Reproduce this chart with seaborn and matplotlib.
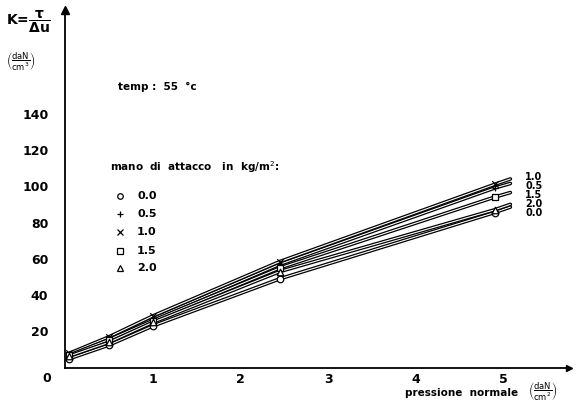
import matplotlib
matplotlib.use("Agg")
import matplotlib.pyplot as plt
import matplotlib.patheffects as pe
import seaborn as sns
import pandas as pd

sns.set_theme(style="white")
plt.rcParams['font.family'] = ['DejaVu Sans']
plt.rcParams['text.color'] = 'black'
plt.rcParams['xtick.color'] = 'black'
plt.rcParams['ytick.color'] = 'black'

# data
pressure = [0.05, 0.5, 1.0, 2.45, 4.9]
series_labels = ["0.0", "0.5", "1.0", "1.5", "2.0"]
k_00 = [5.0, 12.5, 23.0, 49.0, 85.5]
k_05 = [7.5, 16.0, 27.0, 57.0, 99.0]
k_10 = [8.0, 17.0, 28.5, 58.5, 101.0]
k_15 = [7.0, 15.5, 26.0, 55.0, 94.0]
k_20 = [6.5, 14.0, 25.0, 53.0, 87.0]
# end of drawn lines (right side, beyond last measured point)
line_end_x = 5.08
line_end_k = {"0.0": 88.5, "0.5": 101.5, "1.0": 104.0, "1.5": 96.5, "2.0": 90.0}
end_label_order = ["1.0", "0.5", "1.5", "2.0", "0.0"]
end_label_y = [105, 100, 95, 90, 85]
yticks = [20, 40, 60, 80, 100, 120, 140]
xticks_major = [1, 2, 3, 4, 5]
xticks_minor = [0.5, 1.5, 2.5, 3.5, 4.5, 5.5]

values = {"0.0": k_00, "0.5": k_05, "1.0": k_10, "1.5": k_15, "2.0": k_20}
markers = {"0.0": "o", "0.5": "+", "1.0": "x", "1.5": "s", "2.0": "^"}

rows = []
for s in series_labels:
    for x, y in zip(pressure, values[s]):
        rows.append({"p": x, "k": y, "mano": s})
pts = pd.DataFrame(rows)
lines = pd.concat([pts, pd.DataFrame([{"p": line_end_x, "k": line_end_k[s], "mano": s}
                                       for s in series_labels])]).sort_values(["mano", "p"])

fig = plt.figure(figsize=(5.76, 4.05), dpi=100)
ax = fig.add_axes([0.113, 0.092, 0.875, 0.883])
ax.set_xlim(0, 5.75)
ax.set_ylim(0, 197)

sns.lineplot(data=lines, x="p", y="k", units="mano", estimator=None, color="white",
             lw=0.8, ax=ax, sort=False,
             path_effects=[pe.Stroke(linewidth=2.6, foreground="black"), pe.Normal()])
for s in series_labels:
    sub = pts[pts.mano == s]
    filled = markers[s] in ("+", "x")
    sns.scatterplot(data=sub, x="p", y="k", marker=markers[s], s=22,
                    facecolor="black" if filled else "white", edgecolor="black",
                    color="black", linewidth=0.9, ax=ax, zorder=5, legend=False)

for lab, yy in zip(end_label_order, end_label_y):
    ax.text(5.25, yy, lab, fontsize=7, fontweight="bold", va="center", ha="left")

sns.despine(ax=ax)
ax.spines['left'].set_linewidth(1.3)
ax.spines['bottom'].set_linewidth(1.3)
ax.spines['left'].set_color("black")
ax.spines['bottom'].set_color("black")
ax.plot(0, 1, "^", color="black", ms=6, transform=ax.transAxes, clip_on=False)
ax.plot(1, 0, ">", color="black", ms=4, transform=ax.transAxes, clip_on=False)

ax.set_yticks(yticks)
ax.set_yticklabels([str(v) for v in yticks], fontsize=9, fontweight="bold")
ax.set_xticks(xticks_major)
ax.set_xticklabels([str(v) for v in xticks_major], fontsize=9, fontweight="bold")
ax.set_xticks(xticks_minor, minor=True)
ax.tick_params(axis="both", which="both", direction="in", length=3, width=1,
               color="black")
ax.tick_params(axis="x", pad=4)
ax.tick_params(axis="y", pad=12)
ax.set_xlabel("")
ax.set_ylabel("")

fig.text(47 / 576, 1 - 378 / 405, "0", fontsize=9, fontweight="bold", ha="center", va="center")
fig.text(6 / 576, 1 - 22 / 405, r"K=$\dfrac{\mathbf{\tau}}{\mathbf{\Delta u}}$", fontsize=10,
         fontweight="bold", ha="left", va="center")
fig.text(6 / 576, 1 - 62 / 405, r"$\left(\dfrac{\mathrm{daN}}{\mathrm{cm^3}}\right)$",
         fontsize=6, ha="left", va="center")
fig.text(118 / 576, 1 - 87 / 405, "temp :  55  °c", fontsize=7.5, fontweight="bold",
         ha="left", va="center")
fig.text(110 / 576, 1 - 167 / 405, "mano  di  attacco   in  kg/m$^2$:", fontsize=7.5,
         fontweight="bold", ha="left", va="center")
leg_y = [196, 214, 232, 251, 268]
for s, yy in zip(series_labels, leg_y):
    filled = markers[s] in ("+", "x")
    fig.lines.append(plt.Line2D([120 / 576], [1 - yy / 405], marker=markers[s], ms=4,
                                mfc="black" if filled else "white", mec="black", mew=0.9,
                                ls="none", transform=fig.transFigure))
    fig.text(137 / 576, 1 - yy / 405, s, fontsize=8, fontweight="bold", ha="left", va="center")
fig.text(405 / 576, 1 - 393 / 405, "pressione  normale", fontsize=7.5, fontweight="bold",
         ha="left", va="center")
fig.text(528 / 576, 1 - 392 / 405, r"$\left(\dfrac{\mathrm{daN}}{\mathrm{cm^2}}\right)$",
         fontsize=6, ha="left", va="center")

fig.savefig("out.png", dpi=100, facecolor="white")
